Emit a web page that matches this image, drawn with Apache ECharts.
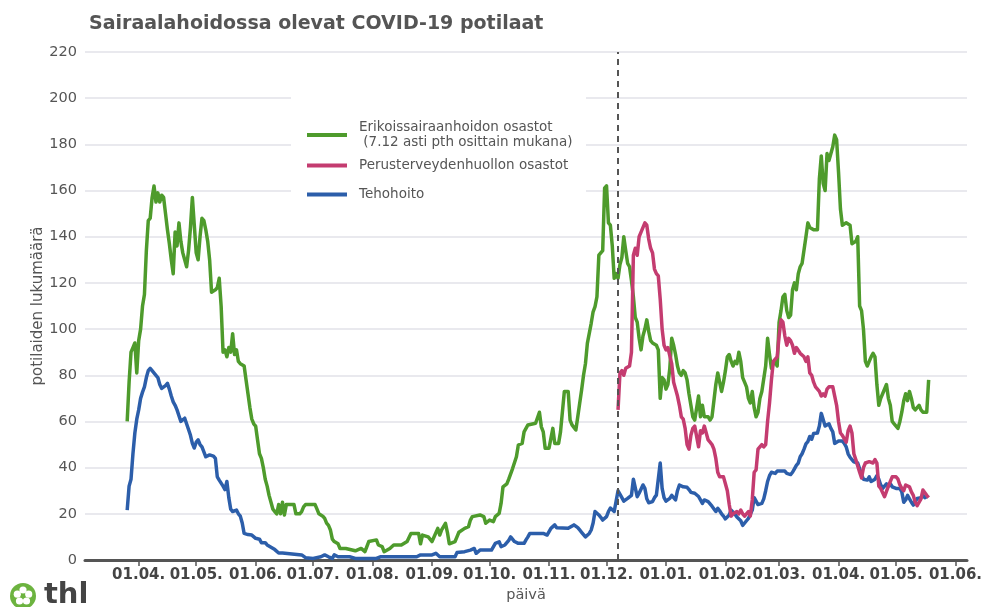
<!DOCTYPE html>
<html><head><meta charset="utf-8">
<script src="https://cdn.jsdelivr.net/npm/echarts@6/dist/echarts.min.js"></script>
<style>html,body{margin:0;padding:0;background:#fff}#c{width:986px;height:607px}</style>
</head><body><div id="c"></div>
<script>
const titleText = 'Sairaalahoidossa olevat COVID-19 potilaat';
const seriesNames = ['Erikoissairaanhoidon osastot\n (7.12 asti pth osittain mukana)', 'Perusterveydenhuollon osastot', 'Tehohoito'];
const seriesColors = ['#4e9b2c', '#c43c70', '#2c5eaa'];
const yTicks = [0, 20, 40, 60, 80, 100, 120, 140, 160, 180, 200, 220];
const dashedDate = '2020-12-07';
const xRange = ['2020-03-04', '2021-06-07'];

const erikoisData = [
['2020-03-26',60],['2020-03-27',77],['2020-03-28',90],['2020-03-29',92],['2020-03-30',94],['2020-03-31',81],
['2020-04-01',95],['2020-04-02',100],['2020-04-03',110],['2020-04-04',115],['2020-04-05',134],['2020-04-06',147],['2020-04-07',148],['2020-04-08',157],['2020-04-09',162],['2020-04-10',155],['2020-04-11',159],['2020-04-12',155],['2020-04-13',158],['2020-04-14',157],['2020-04-15',150],['2020-04-16',143],['2020-04-17',137],['2020-04-18',130],['2020-04-19',124],['2020-04-20',142],['2020-04-21',136],['2020-04-22',146],['2020-04-23',138],['2020-04-24',133],['2020-04-25',130],['2020-04-26',127],['2020-04-27',134],['2020-04-28',144],['2020-04-29',157],['2020-04-30',145],
['2020-05-01',133],['2020-05-02',130],['2020-05-03',140],['2020-05-04',148],['2020-05-05',147],['2020-05-06',143],['2020-05-07',138],['2020-05-08',130],['2020-05-09',116],['2020-05-10',116],['2020-05-11',117],['2020-05-12',118],['2020-05-13',122],['2020-05-14',110],['2020-05-15',90],['2020-05-16',91],['2020-05-17',88],['2020-05-18',92],['2020-05-19',90],['2020-05-20',98],['2020-05-21',89],['2020-05-22',91],['2020-05-23',86],['2020-05-24',85],['2020-05-25',85],['2020-05-26',84],['2020-05-27',78],['2020-05-28',72],['2020-05-29',66],['2020-05-30',61],['2020-05-31',59],
['2020-06-01',58],['2020-06-02',52],['2020-06-03',46],['2020-06-04',44],['2020-06-05',40],['2020-06-06',35],['2020-06-07',32],['2020-06-08',28],['2020-06-09',25],['2020-06-10',22],['2020-06-11',21],['2020-06-12',20],['2020-06-13',24],['2020-06-14',20],['2020-06-15',25],['2020-06-16',19.5],['2020-06-17',24],['2020-06-21',24],['2020-06-22',20],['2020-06-24',20],['2020-06-25',21],['2020-06-26',23],['2020-06-27',24],
['2020-07-02',24],['2020-07-03',22],['2020-07-04',20],['2020-07-05',20],['2020-07-06',19],['2020-07-07',18],['2020-07-08',16],['2020-07-09',15],['2020-07-10',13],['2020-07-11',9],['2020-07-12',8],['2020-07-13',8],['2020-07-14',7],['2020-07-15',5],['2020-07-18',5],['2020-07-23',4],['2020-07-26',5],['2020-07-28',3.6],['2020-07-30',8],
['2020-08-03',8.7],['2020-08-04',6.5],['2020-08-06',5.8],['2020-08-07',3.6],['2020-08-10',5],['2020-08-12',6.5],['2020-08-16',6.5],['2020-08-19',8],['2020-08-21',11.5],['2020-08-25',11.5],['2020-08-26',7],['2020-08-27',10.8],['2020-08-30',10],
['2020-09-01',8],['2020-09-02',8.7],['2020-09-04',13.7],['2020-09-05',10.8],['2020-09-06',13],['2020-09-08',15.9],['2020-09-09',12],['2020-09-10',7],['2020-09-13',8],['2020-09-14',10],['2020-09-15',12],['2020-09-18',13.7],['2020-09-20',14.4],['2020-09-21',17.3],['2020-09-22',18.8],['2020-09-26',19.5],['2020-09-28',18.8],['2020-09-29',15.9],
['2020-10-01',17.3],['2020-10-03',16.6],['2020-10-04',18.8],['2020-10-06',20.2],['2020-10-07',24.5],['2020-10-08',31.7],['2020-10-10',33],['2020-10-11',35],['2020-10-13',39.6],['2020-10-15',44.7],['2020-10-16',49.8],['2020-10-18',50.5],['2020-10-19',55.5],['2020-10-21',58.5],['2020-10-25',59.2],['2020-10-27',64],['2020-10-28',57.7],['2020-10-29',55.5],['2020-10-30',48.4],
['2020-11-01',48.4],['2020-11-03',57],['2020-11-04',50.5],['2020-11-06',50.5],['2020-11-07',55.5],['2020-11-08',55.5],['2020-11-09',73],['2020-11-11',73],['2020-11-12',60.6],['2020-11-13',58.5],['2020-11-15',56.3],['2020-11-16',62],['2020-11-17',67.9],['2020-11-18',73.6],['2020-11-19',80],['2020-11-20',85],['2020-11-21',93.8],['2020-11-22',94.5],['2020-11-23',102.5],['2020-11-24',107.5],['2020-11-25',109.7],['2020-11-26',114],['2020-11-27',132],['2020-11-28',133],['2020-11-29',134],['2020-11-30',161],
['2020-12-01',162],['2020-12-02',146],['2020-12-03',145],['2020-12-04',136],['2020-12-05',122],['2020-12-06',124],['2020-12-07',122],['2020-12-08',128],['2020-12-09',131],['2020-12-10',140],['2020-12-11',134],['2020-12-12',128.5],['2020-12-13',127],['2020-12-14',121],['2020-12-15',114],['2020-12-16',105],['2020-12-17',103],['2020-12-18',96],['2020-12-19',91],['2020-12-20',97],['2020-12-21',100],['2020-12-22',104],['2020-12-23',99],['2020-12-24',95],['2020-12-25',94],['2020-12-26',94],['2020-12-27',93],['2020-12-28',91],['2020-12-29',70],['2020-12-30',79],['2020-12-31',78],
['2021-01-01',74],['2021-01-02',76],['2021-01-03',83],['2021-01-04',96],['2021-01-05',93],['2021-01-06',89],['2021-01-07',84],['2021-01-08',81],['2021-01-09',80],['2021-01-10',82],['2021-01-11',81],['2021-01-12',78],['2021-01-13',72],['2021-01-14',67],['2021-01-15',62],['2021-01-16',60.6],['2021-01-17',61],['2021-01-18',71],['2021-01-19',62],['2021-01-20',67],['2021-01-21',62],['2021-01-22',62],['2021-01-23',62],['2021-01-24',60.6],['2021-01-25',62],['2021-01-26',69],['2021-01-27',76],['2021-01-28',81],['2021-01-29',77],['2021-01-30',73],['2021-01-31',77],
['2021-02-01',82],['2021-02-02',88],['2021-02-03',89],['2021-02-04',86],['2021-02-05',84],['2021-02-06',86],['2021-02-07',85],['2021-02-08',90],['2021-02-09',86],['2021-02-10',79],['2021-02-11',77],['2021-02-12',75],['2021-02-13',70],['2021-02-14',68],['2021-02-15',73],['2021-02-16',66],['2021-02-17',62],['2021-02-18',64],['2021-02-19',70],['2021-02-20',73],['2021-02-21',73],['2021-02-22',84],['2021-02-23',96],['2021-02-24',89],['2021-02-25',83],['2021-02-26',85],['2021-02-27',86],['2021-02-28',84],
['2021-03-01',103],['2021-03-02',108],['2021-03-03',114],['2021-03-04',115],['2021-03-05',108],['2021-03-06',105],['2021-03-07',106],['2021-03-08',117],['2021-03-09',120],['2021-03-10',117],['2021-03-11',124],['2021-03-12',127],['2021-03-13',128.5],['2021-03-14',128.5],['2021-03-15',140],['2021-03-16',146],['2021-03-17',144],['2021-03-18',144],['2021-03-19',143],['2021-03-20',143.5],['2021-03-21',143],['2021-03-22',165],['2021-03-23',175],['2021-03-24',163],['2021-03-25',160],['2021-03-26',176],['2021-03-27',173],['2021-03-28',173],['2021-03-29',179],['2021-03-30',184],['2021-03-31',182],
['2021-04-01',168],['2021-04-02',152],['2021-04-03',145],['2021-04-04',145],['2021-04-05',146],['2021-04-06',146],['2021-04-07',145],['2021-04-08',137],['2021-04-09',137],['2021-04-10',138],['2021-04-11',140],['2021-04-12',110],['2021-04-13',108],['2021-04-14',100],['2021-04-15',86],['2021-04-16',84],['2021-04-17',86],['2021-04-18',88],['2021-04-19',89.5],['2021-04-20',88],['2021-04-21',76],['2021-04-22',67],['2021-04-23',70],['2021-04-24',72],['2021-04-25',72],['2021-04-26',76],['2021-04-27',70],['2021-04-28',67],['2021-04-29',60],['2021-04-30',59],
['2021-05-01',59],['2021-05-02',57],['2021-05-03',60],['2021-05-04',64],['2021-05-05',69],['2021-05-06',72],['2021-05-07',69],['2021-05-08',73],['2021-05-09',70],['2021-05-10',66],['2021-05-11',65],['2021-05-12',66],['2021-05-13',67],['2021-05-14',65],['2021-05-15',64],['2021-05-16',63.5],['2021-05-17',64],['2021-05-18',78]
];

const perusData = [
['2020-12-07',65],['2020-12-08',81],['2020-12-09',82],['2020-12-10',80],['2020-12-11',83],['2020-12-12',83],['2020-12-13',84],['2020-12-14',90],['2020-12-15',132],['2020-12-16',135],['2020-12-17',132],['2020-12-18',140],['2020-12-19',142],['2020-12-20',142],['2020-12-21',146],['2020-12-22',145],['2020-12-23',139],['2020-12-24',135],['2020-12-25',133],['2020-12-26',126],['2020-12-27',124],['2020-12-28',123],['2020-12-29',113],['2020-12-30',100],['2020-12-31',93],
['2021-01-01',91],['2021-01-02',92],['2021-01-03',92],['2021-01-04',85],['2021-01-05',77],['2021-01-06',74],['2021-01-07',71],['2021-01-08',67],['2021-01-09',62],['2021-01-10',61],['2021-01-11',57],['2021-01-12',50],['2021-01-13',48],['2021-01-14',54],['2021-01-15',57],['2021-01-16',58],['2021-01-17',58],['2021-01-18',49],['2021-01-19',56],['2021-01-20',55],['2021-01-21',58],['2021-01-22',58],['2021-01-23',52],['2021-01-24',51],['2021-01-25',50],['2021-01-26',48],['2021-01-27',44],['2021-01-28',38],['2021-01-29',36],['2021-01-30',36],['2021-01-31',36],
['2021-02-01',33],['2021-02-02',30],['2021-02-03',24],['2021-02-04',19],['2021-02-05',20],['2021-02-06',20],['2021-02-07',21],['2021-02-08',20],['2021-02-09',21.6],['2021-02-10',20],['2021-02-11',19],['2021-02-12',20],['2021-02-13',21],['2021-02-14',19],['2021-02-15',26],['2021-02-16',38],['2021-02-17',39],['2021-02-18',48],['2021-02-19',49],['2021-02-20',50],['2021-02-21',49],['2021-02-22',50],['2021-02-23',60],['2021-02-24',68],['2021-02-25',78],['2021-02-26',86],['2021-02-27',87],['2021-02-28',88],
['2021-03-01',97],['2021-03-02',104],['2021-03-03',103],['2021-03-04',97],['2021-03-05',93],['2021-03-06',96],['2021-03-07',95],['2021-03-08',93],['2021-03-09',89.5],['2021-03-10',92],['2021-03-11',92],['2021-03-12',89.5],['2021-03-13',90],['2021-03-14',88],['2021-03-15',86],['2021-03-16',88],['2021-03-17',81],['2021-03-18',80],['2021-03-19',77],['2021-03-20',75],['2021-03-21',75],['2021-03-22',73],['2021-03-23',71],['2021-03-24',72],['2021-03-25',71],['2021-03-26',74],['2021-03-27',75],['2021-03-28',75],['2021-03-29',75],['2021-03-30',71],['2021-03-31',67],
['2021-04-01',60],['2021-04-02',55],['2021-04-03',54],['2021-04-04',54],['2021-04-05',51],['2021-04-06',56],['2021-04-07',58],['2021-04-08',55],['2021-04-09',46],['2021-04-10',43.5],['2021-04-11',43.5],['2021-04-12',38],['2021-04-13',35.5],['2021-04-14',40],['2021-04-15',42],['2021-04-16',42.6],['2021-04-17',42.6],['2021-04-18',42],['2021-04-19',42],['2021-04-20',43.5],['2021-04-21',42],['2021-04-22',32],['2021-04-23',31],['2021-04-24',31.5],['2021-04-25',27.4],['2021-04-26',28],['2021-04-27',32],['2021-04-28',34],['2021-04-29',36],['2021-04-30',36],
['2021-05-01',36],['2021-05-02',35],['2021-05-03',32.5],['2021-05-04',31],['2021-05-05',30],['2021-05-06',32.5],['2021-05-07',32.5],['2021-05-08',31.7],['2021-05-09',29.5],['2021-05-10',28],['2021-05-11',25],['2021-05-12',23.5],['2021-05-13',23],['2021-05-14',26.5],['2021-05-15',30.3],['2021-05-16',30.3],['2021-05-17',28],['2021-05-18',27]
];

const tehoData = [
['2020-03-26',21.6],['2020-03-27',32],['2020-03-28',35],['2020-03-29',46],['2020-03-30',55],['2020-03-31',61],
['2020-04-01',65],['2020-04-02',70],['2020-04-03',72.7],['2020-04-04',75],['2020-04-05',79],['2020-04-06',82],['2020-04-07',83],['2020-04-08',82],['2020-04-09',81.5],['2020-04-10',80],['2020-04-11',79],['2020-04-12',76],['2020-04-13',74.3],['2020-04-14',74.3],['2020-04-15',75.5],['2020-04-16',76.5],['2020-04-17',74],['2020-04-18',71],['2020-04-19',68.5],['2020-04-20',67],['2020-04-21',65],['2020-04-22',62.5],['2020-04-23',60],['2020-04-24',60.6],['2020-04-25',61.4],['2020-04-26',62],['2020-04-27',56.5],['2020-04-28',54],['2020-04-29',50.5],['2020-04-30',48.5],
['2020-05-01',51],['2020-05-02',52],['2020-05-03',50],['2020-05-04',49],['2020-05-05',48.4],['2020-05-06',44.7],['2020-05-07',45.5],['2020-05-08',45.5],['2020-05-09',45.5],['2020-05-10',45],['2020-05-11',44],['2020-05-12',36],['2020-05-13',34.6],['2020-05-14',34],['2020-05-15',32],['2020-05-16',30.5],['2020-05-17',34],['2020-05-18',27],['2020-05-19',22],['2020-05-20',21],['2020-05-21',21.5],['2020-05-22',21.6],['2020-05-23',20],['2020-05-24',19],['2020-05-25',16],['2020-05-26',11.5],['2020-05-27',11.5],['2020-05-28',11],['2020-05-29',10.8],['2020-05-30',10.8],['2020-05-31',10],
['2020-06-01',9.4],['2020-06-02',10],['2020-06-03',9],['2020-06-04',7.5],['2020-06-05',7.5],['2020-06-06',7.5],['2020-06-07',6.5],['2020-06-08',6],['2020-06-09',5.5],['2020-06-10',5],['2020-06-11',4.5],['2020-06-12',4],['2020-06-13',3],['2020-06-14',2.2],['2020-06-15',3],['2020-06-16',2.2],['2020-06-25',2.2],['2020-06-26',1.5],['2020-06-27',1],['2020-06-28',0.7],['2020-07-01',0.7],['2020-07-02',1.4],['2020-07-05',1.4],['2020-07-07',2.2],['2020-07-09',1.4],['2020-07-11',0.7],['2020-07-12',2.2],['2020-07-14',1.4],['2020-07-20',1.4],['2020-07-23',0.7],
['2020-08-03',0.7],['2020-08-05',1.4],['2020-08-24',1.4],['2020-08-26',2.2],['2020-09-01',2.2],['2020-09-03',2.9],['2020-09-05',1.4],['2020-09-13',1.4],['2020-09-14',3.2],['2020-09-18',3.6],['2020-09-21',4.3],['2020-09-23',5],['2020-09-24',2.9],['2020-09-26',4.3],
['2020-10-02',4.3],['2020-10-03',5],['2020-10-04',7.2],['2020-10-05',7.9],['2020-10-06',7.9],['2020-10-07',5.8],['2020-10-08',6.5],['2020-10-09',6.5],['2020-10-10',7.2],['2020-10-11',8.5],['2020-10-12',10],['2020-10-13',10.8],['2020-10-14',8],['2020-10-15',7.5],['2020-10-16',7.2],['2020-10-19',7.2],['2020-10-20',8.7],['2020-10-21',10],['2020-10-22',11.5],['2020-10-26',11.5],['2020-10-27',10.8],['2020-10-29',11.5],['2020-10-30',11.5],['2020-10-31',10.8],
['2020-11-01',11.5],['2020-11-02',13.7],['2020-11-03',14.5],['2020-11-04',15.2],['2020-11-05',14],['2020-11-06',13.7],['2020-11-11',13.7],['2020-11-12',14.4],['2020-11-14',15.2],['2020-11-15',14.8],['2020-11-16',14],['2020-11-17',13],['2020-11-18',12],['2020-11-19',11],['2020-11-20',10],['2020-11-21',10.5],['2020-11-22',11.5],['2020-11-23',13],['2020-11-24',16],['2020-11-25',21],['2020-11-26',20.5],['2020-11-27',19.5],['2020-11-28',18.5],['2020-11-29',17.3],['2020-11-30',17.5],
['2020-12-01',18.8],['2020-12-02',21],['2020-12-03',22.5],['2020-12-04',23],['2020-12-05',21],['2020-12-06',20.2],['2020-12-07',30],['2020-12-08',29.5],['2020-12-09',27],['2020-12-10',25.5],['2020-12-11',25.5],['2020-12-12',26.7],['2020-12-13',27],['2020-12-14',28],['2020-12-15',35],['2020-12-16',34.6],['2020-12-17',27.4],['2020-12-18',28.9],['2020-12-19',29.6],['2020-12-20',32.5],['2020-12-21',31],['2020-12-22',26.5],['2020-12-23',24.8],['2020-12-24',25],['2020-12-25',25.3],['2020-12-26',27],['2020-12-27',28.1],['2020-12-28',28.1],['2020-12-29',42],['2020-12-30',31],['2020-12-31',27],
['2021-01-01',25.5],['2021-01-02',26],['2021-01-03',26.7],['2021-01-04',28],['2021-01-05',27],['2021-01-06',26],['2021-01-07',30],['2021-01-08',32.5],['2021-01-09',32.5],['2021-01-10',31.7],['2021-01-11',32.5],['2021-01-12',31.5],['2021-01-13',30.5],['2021-01-14',29.3],['2021-01-15',28.9],['2021-01-16',28.9],['2021-01-17',28.5],['2021-01-18',27.5],['2021-01-19',26],['2021-01-20',24.5],['2021-01-21',26],['2021-01-22',25.5],['2021-01-23',25.3],['2021-01-24',24.5],['2021-01-25',23.3],['2021-01-26',23.5],['2021-01-27',21],['2021-01-28',22.4],['2021-01-29',21.3],['2021-01-30',20],['2021-01-31',19],
['2021-02-01',17.8],['2021-02-02',17.8],['2021-02-03',19.5],['2021-02-04',21.6],['2021-02-05',21.2],['2021-02-06',19.8],['2021-02-07',18.6],['2021-02-08',18],['2021-02-09',17],['2021-02-10',15],['2021-02-11',15],['2021-02-12',17],['2021-02-13',18],['2021-02-14',18],['2021-02-15',21.6],['2021-02-16',27],['2021-02-17',27],['2021-02-18',24],['2021-02-19',23.5],['2021-02-20',24.5],['2021-02-21',26.5],['2021-02-22',30],['2021-02-23',34],['2021-02-24',36.5],['2021-02-25',38],['2021-02-26',38.3],['2021-02-27',37.5],['2021-02-28',38.5],
['2021-03-01',38.7],['2021-03-02',38.5],['2021-03-03',39],['2021-03-04',38.5],['2021-03-05',37.5],['2021-03-06',36.8],['2021-03-07',37],['2021-03-08',38],['2021-03-09',39.5],['2021-03-10',41],['2021-03-11',42],['2021-03-12',44.7],['2021-03-13',46],['2021-03-14',48],['2021-03-15',50.3],['2021-03-16',51.3],['2021-03-17',53.5],['2021-03-18',52.3],['2021-03-19',54.8],['2021-03-20',54.3],['2021-03-21',55],['2021-03-22',58],['2021-03-23',63.5],['2021-03-24',63],['2021-03-25',58],['2021-03-26',58.5],['2021-03-27',59],['2021-03-28',57],['2021-03-29',55.5],['2021-03-30',50.5],['2021-03-31',49.8],
['2021-04-01',51.5],['2021-04-02',52],['2021-04-03',51.5],['2021-04-04',50.5],['2021-04-05',49],['2021-04-06',46],['2021-04-07',44.5],['2021-04-08',43.5],['2021-04-09',42.5],['2021-04-10',42],['2021-04-11',42],['2021-04-12',42],['2021-04-13',37],['2021-04-14',35],['2021-04-15',34.6],['2021-04-16',34.6],['2021-04-17',36],['2021-04-18',34],['2021-04-19',34.5],['2021-04-20',35],['2021-04-21',36.5],['2021-04-22',35],['2021-04-23',32.5],['2021-04-24',31],['2021-04-25',31.7],['2021-04-26',33],['2021-04-27',32],['2021-04-28',33],['2021-04-29',31.7],['2021-04-30',31.7],
['2021-05-01',31],['2021-05-02',30.3],['2021-05-03',31],['2021-05-04',29.5],['2021-05-05',25],['2021-05-06',26],['2021-05-07',28],['2021-05-08',27.5],['2021-05-09',25],['2021-05-10',23.8],['2021-05-11',24.5],['2021-05-12',26.7],['2021-05-13',26],['2021-05-14',27],['2021-05-15',28],['2021-05-16',27],['2021-05-17',27.4]
];

const FONT = 'DejaVu Sans';
const chart = echarts.init(document.getElementById('c'), null, {renderer: 'canvas'});
function pad(n){ return (n < 10 ? '0' : '') + n; }
const seriesData = [erikoisData, perusData, tehoData];
const legendTops = [120, 158, 187];
const legends = seriesNames.map((name, i) => ({
  left: 307, top: legendTops[i], orient: 'vertical', padding: 0,
  itemWidth: 40, itemHeight: 4, icon: 'rect',
  data: [{name: name, itemStyle: {color: seriesColors[i]}}],
  textStyle: {fontFamily: FONT, fontSize: 13.5, color: '#555', lineHeight: 15, padding: [0, 0, 0, 7]},
  selectedMode: false
}));

const series = seriesData.map((d, i) => ({
  name: seriesNames[i], type: 'line', data: d, showSymbol: false, symbol: 'none',
  z: [2, 4, 3][i],
  lineStyle: {color: seriesColors[i], width: 3.5, join: 'round'},
  itemStyle: {color: seriesColors[i]},
  emphasis: {disabled: true}
}));
series[0].markLine = {
  silent: true, symbol: 'none', animation: false,
  lineStyle: {color: '#555', type: [6, 5], width: 2},
  label: {show: false},
  data: [{xAxis: dashedDate}]
};

chart.setOption({
  animation: false,
  backgroundColor: '#fff',
  title: {text: titleText, left: 84, top: 10, textStyle: {fontFamily: FONT, fontSize: 19, fontWeight: 'bold', color: '#555'}},
  grid: {left: 85, right: 19, top: 52, bottom: 47, containLabel: false, outerBoundsMode: 'none'},
  legend: legends,
  xAxis: {
    type: 'time', min: xRange[0], max: xRange[1], splitNumber: 15,
    name: 'päivä', nameLocation: 'middle', nameGap: 27,
    nameTextStyle: {fontFamily: FONT, fontSize: 14.5, color: '#555'},
    axisLine: {show: true, lineStyle: {color: '#555', width: 3}},
    axisTick: {show: true, length: 6, lineStyle: {color: '#555', width: 1.5}},
    splitLine: {show: false},
    axisLabel: {fontFamily: FONT, fontSize: 15, fontWeight: 'bold', color: '#444', margin: 8, hideOverlap: false,
      formatter: function (v) { const d = new Date(v); return pad(d.getDate()) + '.' + pad(d.getMonth() + 1) + '.'; }}
  },
  yAxis: {
    type: 'value', min: yTicks[0], max: yTicks[yTicks.length - 1], interval: 20,
    name: 'potilaiden lukumäärä', nameLocation: 'middle', nameGap: 39, nameMoveOverlap: false,
    nameTextStyle: {fontFamily: FONT, fontSize: 15, color: '#555'},
    axisLine: {show: false}, axisTick: {show: false},
    splitLine: {show: true, lineStyle: {color: '#e2e2e8', width: 1.5}},
    axisLabel: {fontFamily: FONT, fontSize: 14.5, color: '#555', margin: 8}
  },
  graphic: [
    {type: 'rect', z: 1, silent: true, shape: {x: 291, y: 90, width: 295, height: 135}, style: {fill: '#fff'}},
    {type: 'group', left: 10, top: 583, z: 10, children: [
      {type: 'circle', shape: {cx: 14, cy: 13, r: 13}, style: {fill: '#6cb33f'}},
      {type: 'circle', shape: {cx: 14, cy: 7, r: 3.6}, style: {fill: '#fff'}},
      {type: 'circle', shape: {cx: 19.7, cy: 11.2, r: 3.6}, style: {fill: '#fff'}},
      {type: 'circle', shape: {cx: 17.5, cy: 18, r: 3.6}, style: {fill: '#fff'}},
      {type: 'circle', shape: {cx: 10.5, cy: 18, r: 3.6}, style: {fill: '#fff'}},
      {type: 'circle', shape: {cx: 8.3, cy: 11.2, r: 3.6}, style: {fill: '#fff'}},
      {type: 'circle', shape: {cx: 14, cy: 13, r: 2.2}, style: {fill: '#6cb33f'}}
    ]},
    {type: 'text', left: 44, top: 581, z: 10, style: {text: 'thl', font: 'bold 29px "DejaVu Sans"', fill: '#444'}}
  ],
  series: series
});
</script>
</body></html>
